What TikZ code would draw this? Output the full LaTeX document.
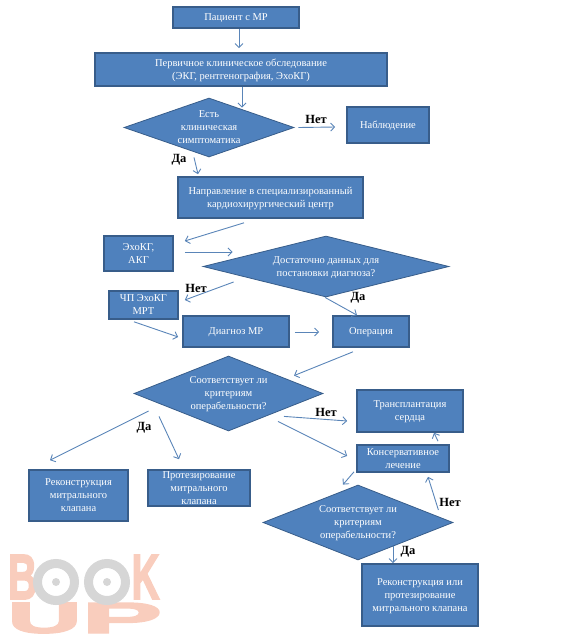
\documentclass[tikz,border=0pt]{standalone}
\usepackage{fontspec}
\setmainfont{Liberation Serif}
\newfontfamily\marksans[BoldFeatures={FakeBold=3}]{Liberation Sans}
\usetikzlibrary{positioning, arrows.meta, shapes.geometric}
\definecolor{boxfill}{HTML}{4F81BD}
\definecolor{boxline}{HTML}{385D8A}
\definecolor{flowline}{HTML}{5A85B8}
\definecolor{marksalmon}{HTML}{F9CDBD}
\definecolor{markgray}{HTML}{D6D6D6}
\newcommand{\flattext}[1]{\raisebox{-3.5pt}[0pt][0pt]{\makebox[0pt]{\begin{tabular}{@{}c@{}}#1\end{tabular}}}}
\tikzset{
  stepbox/.style={rectangle, draw=boxline, line width=1.6pt, fill=boxfill, text=white, align=center,
    inner sep=0pt, text depth=-3pt, font=\fontsize{10.5}{13}\selectfont},
  choice/.style={diamond, draw=boxline, line width=0.8pt, fill=boxfill, text=white, align=center,
    inner sep=0pt, text depth=-3pt, font=\fontsize{10.5}{13}\selectfont},
  flow/.style={-{Straight Barb[length=4pt,width=8pt]}, draw=flowline, line width=0.9pt},
  answer/.style={font=\fontsize{12.5}{14}\selectfont\bfseries, text=black, inner sep=0pt}
}
\begin{document}
\begin{tikzpicture}[x=1pt, y=-1pt]
        \useasboundingbox (0,0) rectangle (560,643);

        % Watermark
        \node[text=marksalmon, inner sep=0pt] (markb) at (22.5,577) {\resizebox{29pt}{44pt}{\marksans\bfseries B}};
        \node[text=marksalmon, inner sep=0pt] (markk) at (145.5,577) {\resizebox{28pt}{44pt}{\marksans\bfseries K}};
        \node[text=marksalmon, inner sep=0pt] (marku) at (44.5,618) {\resizebox{74pt}{30pt}{\marksans\bfseries U}};
        \node[text=marksalmon, inner sep=0pt] (markp) at (122,618) {\resizebox{80pt}{30pt}{\marksans\bfseries P}};
        \draw[markgray, line width=9pt] (56,582) circle (18.5);
        \draw[markgray, line width=9pt] (107,582) circle (18.5);
        \fill[markgray] (56,582) circle (4);
        \fill[markgray] (107,582) circle (4);

        % Boxes
        \node[stepbox, minimum width=126pt, minimum height=21pt] (patient) at (236,17.5) {Пациент с МР};
        \node[stepbox, minimum width=292pt, minimum height=33pt] (exam) at (241,69.5) {Первичное клиническое обследование\\(ЭКГ, рентгенография, ЭхоКГ)};
        \node[stepbox, minimum width=82pt, minimum height=36pt] (watch) at (388,125) {Наблюдение};
        \node[stepbox, minimum width=185pt, minimum height=41pt] (center) at (270.5,197.5) {Направление в специализированный\\кардиохирургический центр};
        \node[stepbox, minimum width=69pt, minimum height=35pt] (echo) at (138.5,253.5) {ЭхоКГ,\\АКГ};
        \node[stepbox, minimum width=69pt, minimum height=28pt] (tee) at (143.5,305) {ЧП ЭхоКГ\\МРТ};
        \node[stepbox, minimum width=106pt, minimum height=31pt] (diagnosis) at (236,331.5) {Диагноз МР};
        \node[stepbox, minimum width=76pt, minimum height=31pt] (surgery) at (371,331.5) {Операция};
        \node[stepbox, minimum width=99pt, minimum height=51pt] (repair) at (78.5,495.5) {Реконструкция\\митрального\\клапана};
        \node[stepbox, minimum width=102pt, minimum height=36pt] (prosthesis) at (199,488) {Протезирование\\митрального\\клапана};
        \node[stepbox, minimum width=106pt, minimum height=42pt] (transplant) at (410,411) {Трансплантация\\сердца};
        \node[stepbox, minimum width=92pt, minimum height=27pt] (therapy) at (403,458.5) {Консервативное\\лечение};
        \node[stepbox, minimum width=116pt, minimum height=62pt] (repairtwo) at (420,595) {Реконструкция или\\протезирование\\митрального клапана};

        % Diamonds
        \node[choice, aspect=2.88, minimum width=170pt, minimum height=59pt] (symptoms) at (209,127.5) {\flattext{Есть\\клиническая\\симптоматика}};
        \node[choice, aspect=4, minimum width=246pt, minimum height=61pt] (enough) at (326,266.5) {Достаточно данных для\\постановки диагноза?};
        \node[choice, aspect=2.52, minimum width=189pt, minimum height=75pt] (criteria) at (228.5,393.5) {\flattext{Соответствует ли\\критериям\\операбельности?}};
        \node[choice, aspect=2.52, minimum width=190pt, minimum height=75pt] (criteriatwo) at (358,522.5) {\flattext{Соответствует ли\\критериям\\операбельности?}};

        % Arrows
        \draw[flow] ([shift={(3,0)}]patient.south) -- ([shift={(-2,-4)}]exam.north);
        \draw[flow] ([shift={(1,0)}]exam.south) -- ([shift={(33,10)}]symptoms.north);
        \draw[flow] ([shift={(4,0)}]symptoms.east) -- ([shift={(-11,2)}]watch.west);
        \draw[flow] ([shift={(-15,0)}]symptoms.south) -- ([shift={(-72.5,-2)}]center.north);
        \draw[flow] ([shift={(-26.5,4)}]center.south) -- ([shift={(11,-12.5)}]echo.east);
        \draw[flow] ([shift={(11,-1.5)}]echo.east) -- ([shift={(30,-14.5)}]enough.west);
        \draw[flow] ([shift={(31,15.5)}]enough.west) -- ([shift={(6,-5)}]tee.east);
        \draw[flow] ([shift={(-1,0)}]enough.south) -- ([shift={(-14,0)}]surgery.north);
        \draw[flow] ([shift={(-9.5,2)}]tee.south) -- ([shift={(-4,5.5)}]diagnosis.west);
        \draw[flow] ([shift={(5,0.5)}]diagnosis.east) -- ([shift={(-13,0.5)}]surgery.west);
        \draw[flow] ([shift={(-18,4)}]surgery.south) -- ([shift={(65.5,20)}]criteria.north);
        \draw[flow] ([shift={(15,17.5)}]criteria.west) -- ([shift={(-28.5,-9)}]repair.north);
        \draw[flow] ([shift={(-69.5,-15)}]criteria.south) -- ([shift={(-20,-10)}]prosthesis.north);
        \draw[flow] ([shift={(55.5,-15)}]criteria.south) -- ([shift={(-9,10)}]transplant.west);
        \draw[flow] ([shift={(49.5,-10)}]criteria.south) -- ([shift={(-9,-2.5)}]therapy.west);
        \draw[flow] ([shift={(-49,-1)}]therapy.south) -- ([shift={(-15,0)}]criteriatwo.north);
        \draw[flow] ([shift={(35,-3)}]therapy.north) -- ([shift={(24,0)}]transplant.south);
        \draw[flow] ([shift={(-15,-12.5)}]criteriatwo.east) -- ([shift={(25,4)}]therapy.south);
        \draw[flow] ([shift={(35,-14)}]criteriatwo.south) -- ([shift={(-27,0)}]repairtwo.north);

        % Answers
        \node[answer] (no1) at (316,119) {Нет};
        \node[answer] (yes1) at (179,160) {Да};
        \node[answer] (no2) at (196,288) {Нет};
        \node[answer] (yes2) at (358,298) {Да};
        \node[answer] (yes3) at (144,428) {Да};
        \node[answer] (no3) at (326,412) {Нет};
        \node[answer] (no4) at (450,502) {Нет};
        \node[answer] (yes4) at (408,552) {Да};

    \end{tikzpicture}
\end{document}
